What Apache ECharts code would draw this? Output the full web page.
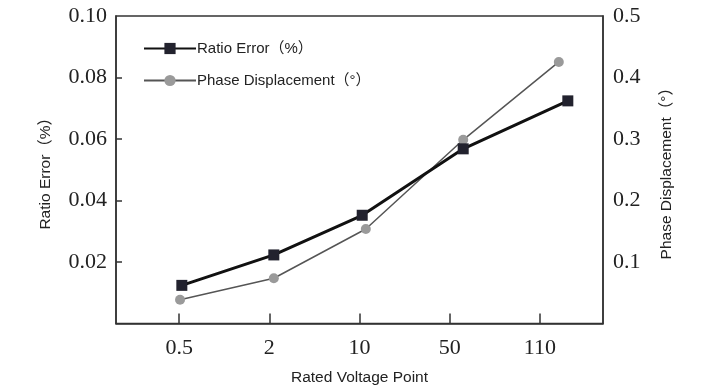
<!DOCTYPE html>
<html>
<head>
<meta charset="utf-8">
<script src="https://cdn.jsdelivr.net/npm/echarts@6/dist/echarts.min.js"></script>
<style>html,body{margin:0;padding:0;background:#fff}#c{width:719px;height:390px}</style>
</head>
<body>
<div id="c"></div>
<script>
// Category labels on the x axis (tick positions 0..4)
var categories = ['0.5', '2', '10', '50', '110'];
var tickPositions = [0, 1, 2, 3, 4];
// Plotted x positions (in category-index units)
var ratioX = [0.03, 1.05, 2.03, 3.15, 4.31];
var phaseX = [0.01, 1.05, 2.07, 3.15, 4.21];
// Series values
var ratioError = [0.0124, 0.0223, 0.0352, 0.0568, 0.0724];
var phaseDisplacement = [0.0385, 0.0736, 0.1537, 0.2987, 0.4253];
// Tick labels
var leftTicks = [0.02, 0.04, 0.06, 0.08, 0.10];
var rightTicks = [0.1, 0.2, 0.3, 0.4, 0.5];

var serif = '"Liberation Serif","Times New Roman",serif';
var sans = '"Liberation Sans",Arial,"Noto Sans CJK SC",sans-serif';

function pairs(xs, ys) { return xs.map(function (x, i) { return [x, ys[i]]; }); }

var chart = echarts.init(document.getElementById('c'), null, { renderer: 'canvas' });
chart.setOption({
  animation: false,
  backgroundColor: '#fff',
  grid: { left: 116, right: 116, top: 16, bottom: 66, show: true, borderColor: '#333', borderWidth: 1.5, backgroundColor: 'transparent' },
  legend: {
    orient: 'vertical', left: 143, top: 41, padding: 0,
    itemWidth: 52, itemHeight: 14, itemGap: 17,
    textStyle: { fontFamily: sans, fontSize: 15, color: '#222', padding: [0, 0, 0, -4] },
    data: ['Ratio Error（%）', 'Phase Displacement（°）']
  },
  xAxis: {
    type: 'value', min: -0.7, max: 4.7,
    name: 'Rated Voltage Point', nameLocation: 'middle', nameGap: 46,
    nameTextStyle: { fontFamily: sans, fontSize: 15.5, color: '#222' },
    axisLine: { show: true, onZero: false, lineStyle: { color: '#333', width: 1.5 } },
    axisTick: { show: true, inside: true, length: 10, customValues: tickPositions, lineStyle: { color: '#333', width: 1.5 } },
    axisLabel: {
      customValues: tickPositions, margin: 14,
      fontFamily: serif, fontSize: 22, color: '#222',
      formatter: function (v) { return categories[Math.round(v)]; }
    },
    splitLine: { show: false }
  },
  yAxis: [
    {
      type: 'value', min: 0, max: 0.1,
      name: 'Ratio Error（%）', nameLocation: 'middle', nameGap: 63, nameRotate: 90,
      nameTextStyle: { fontFamily: sans, fontSize: 15.5, color: '#222' },
      axisLine: { show: true, onZero: false, lineStyle: { color: '#333', width: 1.5 } },
      axisTick: { show: true, inside: true, length: 6, customValues: leftTicks.slice(0, 4), lineStyle: { color: '#333', width: 1.5 } },
      axisLabel: { customValues: leftTicks, margin: 9, fontFamily: serif, fontSize: 22, color: '#222',
        formatter: function (v) { return v.toFixed(2); } },
      splitLine: { show: false }
    },
    {
      type: 'value', min: 0, max: 0.5, position: 'right',
      name: 'Phase Displacement（°）', nameLocation: 'middle', nameGap: 56, nameRotate: 90,
      nameTextStyle: { fontFamily: sans, fontSize: 15.5, color: '#222' },
      axisLine: { show: true, onZero: false, lineStyle: { color: '#333', width: 1.5 } },
      axisTick: { show: false },
      axisLabel: { customValues: rightTicks, margin: 10, fontFamily: serif, fontSize: 22, color: '#222',
        formatter: function (v) { return v.toFixed(1); } },
      splitLine: { show: false }
    }
  ],
  series: [
    {
      name: 'Phase Displacement（°）', type: 'line', yAxisIndex: 1,
      data: pairs(phaseX, phaseDisplacement),
      symbol: 'circle', symbolSize: 10,
      lineStyle: { color: '#555', width: 1.5 },
      itemStyle: { color: '#9a9a9a', borderWidth: 0 },
      z: 2
    },
    {
      name: 'Ratio Error（%）', type: 'line', yAxisIndex: 0,
      data: pairs(ratioX, ratioError),
      symbol: 'rect', symbolSize: 11,
      lineStyle: { color: '#111', width: 3 },
      itemStyle: { color: '#22222e', borderWidth: 0 },
      z: 3
    }
  ]
});
</script>
</body>
</html>
